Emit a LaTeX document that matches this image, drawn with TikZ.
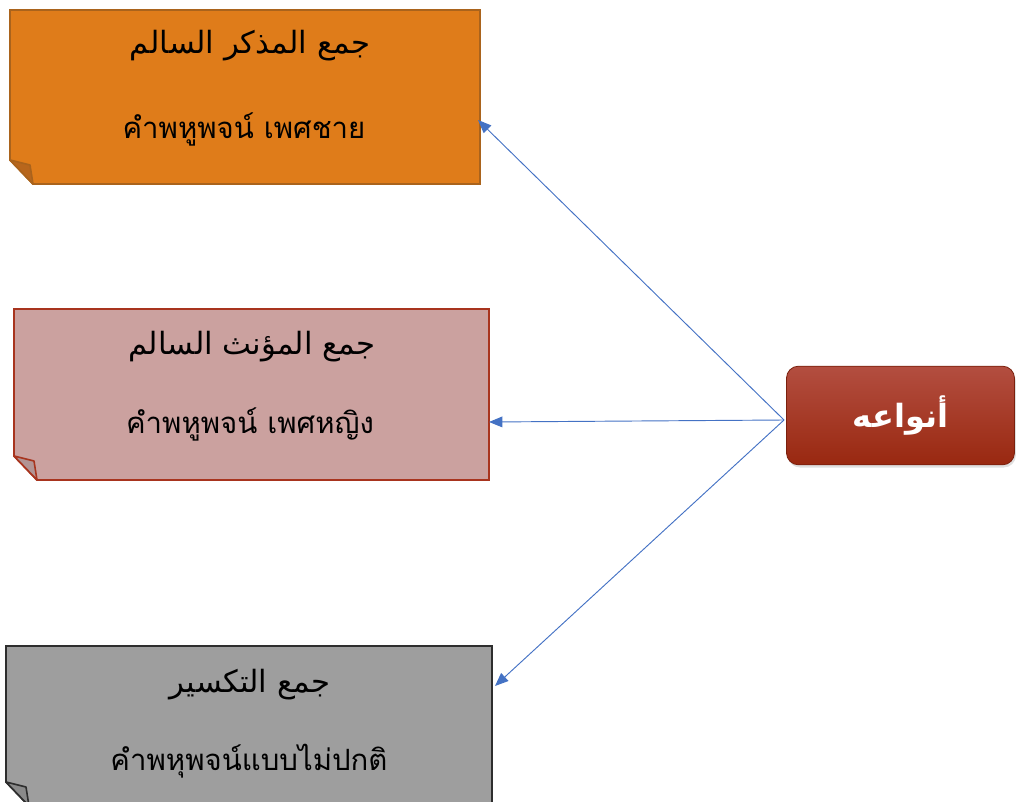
\documentclass[tikz,border=0pt]{standalone}
\usepackage{fontspec}
\usetikzlibrary{arrows.meta,shadows}
\TeXXeTstate=1
\newfontfamily\arabicfont[Script=Arabic]{DejaVu Sans}
\newfontfamily\thaifont[Script=Thai]{Loma}
\definecolor{orangefill}{HTML}{DF7C1A}
\definecolor{orangeline}{HTML}{AA631C}
\definecolor{orangefold}{HTML}{B8661C}
\definecolor{pinkfill}{HTML}{CBA19F}
\definecolor{pinkline}{HTML}{A8341E}
\definecolor{pinkfold}{HTML}{B29494}
\definecolor{greyfill}{HTML}{9E9E9E}
\definecolor{greyline}{HTML}{2E2E2E}
\definecolor{greyfold}{HTML}{8A8A8A}
\definecolor{redtop}{HTML}{B34E40}
\definecolor{redbottom}{HTML}{992810}
\definecolor{arrowblue}{HTML}{4472C4}
\tikzset{
  arabictitle/.style={font=\arabicfont\fontsize{23}{27}\selectfont, text=black},
  thailine/.style={font=\thaifont\fontsize{22}{26}\selectfont, text=black},
  typebox/.style={rounded corners=9pt, top color=redtop, bottom color=redbottom,
    draw=redbottom!80!black, line width=0.6pt, minimum width=171pt, minimum height=74pt,
    drop shadow={opacity=0.25, shadow xshift=1pt, shadow yshift=-2pt},
    text=white, font=\arabicfont\bfseries\fontsize{24}{28}\selectfont},
  link/.style={draw=arrowblue, line width=0.7pt, -{Triangle[length=10pt,width=8pt]}}
}
% folded note: #1 left, #2 top, #3 right, #4 bottom, #5 fill, #6 line, #7 fold colour
\newcommand{\foldnote}[7]{%
  \filldraw[fill=#5, draw=#6, line width=1.4pt, line join=miter]
    (#1,#2) -- (#3,#2) -- (#3,#4) -- (#1+23,#4) -- (#1,#4-24) -- cycle;
  \filldraw[fill=#7, draw=#6, line width=1.2pt, line join=round]
    (#1,#4-24) -- (#1+20,#4-19) -- (#1+23,#4) -- cycle;
}
\begin{document}
\begin{tikzpicture}[x=0.75pt, y=-0.75pt]
  \useasboundingbox (0,0) rectangle (1017,802);
  \clip (0,0) rectangle (1017,802);

  % the three kinds of plural
  \foldnote{10}{10}{480}{184}{orangefill}{orangeline}{orangefold}
  \foldnote{14}{309}{489}{480}{pinkfill}{pinkline}{pinkfold}
  \foldnote{6}{646}{492}{806}{greyfill}{greyline}{greyfold}

  \node[arabictitle] (t1) at (250,46) {\beginR جمع المذكر السالم\endR};
  \node[thailine] (s1) at (244,129) {คำพหูพจน์ เพศชาย};
  \node[arabictitle] (t2) at (252,347) {\beginR جمع المؤنث السالم\endR};
  \node[thailine] (s2) at (250,424) {คำพหูพจน์ เพศหญิง};
  \node[arabictitle] (t3) at (250,685) {\beginR جمع التكسير\endR};
  \node[thailine] (s3) at (249,761) {คำพหุพจน์แบบไม่ปกติ};

  \coordinate (e1) at (478,120);
  \coordinate (e2) at (489,422);
  \coordinate (e3) at (495,686);

  % the central node
  \node[typebox] (kinds) at (900.5,415.5) {\beginR أنواعه\endR};
  \coordinate (src) at (784,420);

  \draw[link] (src) -- (e1);
  \draw[link] (src) -- (e2);
  \draw[link] (src) -- (e3);
\end{tikzpicture}
\end{document}
